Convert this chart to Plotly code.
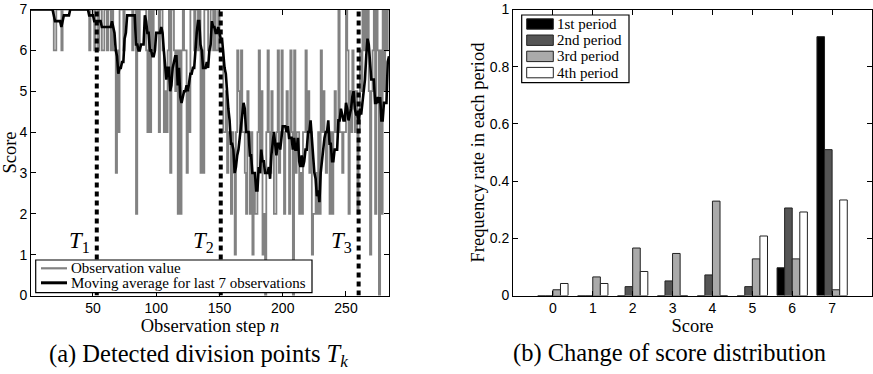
import plotly.graph_objects as go
import pandas as pd

# ---------------- data: left panel ----------------
# observed score at each observation step n = 1..284 (read from the picture)
observation = [
    # n 1-53 (1st period)
    7, 7, 7, 7, 7, 7, 7, 7, 7, 7,
    7, 7, 7, 7, 7, 7, 7, 7, 6, 6,
    7, 7, 7, 7, 6, 7, 7, 7, 7, 7,
    7, 7, 7, 7, 7, 7, 7, 7, 7, 7,
    7, 7, 7, 7, 7, 7, 6, 7, 7, 7,
    6, 7, 7,
    # n 54-151 (2nd period)
    6, 7, 7, 6, 6, 7, 7,
    6, 7, 7, 6, 7, 6, 6, 3, 6, 4,
    7, 7, 7, 6, 7, 7, 7, 7, 7, 7,
    6, 7, 7, 2, 7, 6, 7, 7, 7, 7,
    7, 6, 4, 7, 4, 7, 6, 7, 7, 7,
    7, 4, 7, 7, 6, 4, 5, 4, 6, 7,
    3, 7, 7, 6, 5, 6, 2, 6, 2, 6,
    7, 6, 6, 3, 5, 4, 7, 7, 7, 6,
    7, 7, 6, 7, 3, 6, 3, 7, 7, 7,
    6, 6, 7, 7, 6, 7, 6, 6, 7, 6, 6,
    # n 152-260 (3rd period)
    6, 4, 4, 5, 3, 4, 4, 2, 4, 3,
    1, 4, 6, 5, 4, 6, 4, 4, 3, 2,
    5, 4, 2, 4, 1, 3, 2, 2, 4, 6,
    3, 5, 1, 2, 0, 4, 6, 4, 3, 5,
    4, 2, 2, 4, 6, 3, 4, 6, 4,
    2, 4, 5, 4, 2, 6, 4, 0, 6, 3,
    4, 4, 2, 3, 2, 4, 4, 6, 4, 5,
    3, 4, 1, 2, 2, 3, 2, 4, 2, 6,
    4, 5, 4, 3, 4, 4, 2, 4, 2, 4,
    5, 4, 4, 7, 4, 4, 3, 4, 4, 7,
    6, 2, 5, 4, 6, 5, 4, 5, 2, 4,
    # n 261-284 (4th period)
    6, 5, 7, 6, 7, 6, 7, 5, 1, 5,
    6, 7, 2, 7, 6, 0, 6, 2, 7, 5,
    7, 6, 7, 7,
]
ma_window = 7
series_names = ["Observation value", "Moving average for last 7 observations"]
division_points = [53, 151, 260]
division_names = ["1", "2", "3"]
left_xticks = [50, 100, 150, 200, 250]
left_yticks = [0, 1, 2, 3, 4, 5, 6, 7]

# ---------------- data: right panel ----------------
scores = [0, 1, 2, 3, 4, 5, 6, 7]
period_names = ["1st period", "2nd period", "3rd period", "4th period"]
period1 = [0.0, 0.0, 0.0, 0.0, 0.0, 0.0, 0.097, 0.905]
period2 = [0.0, 0.0, 0.031, 0.051, 0.072, 0.031, 0.306, 0.510]
period3 = [0.020, 0.065, 0.166, 0.147, 0.330, 0.128, 0.128, 0.020]
period4 = [0.042, 0.042, 0.084, 0.0, 0.0, 0.208, 0.292, 0.334]
right_yticks = [0, 0.2, 0.4, 0.6, 0.8, 1]
right_yticklabels = ["0", "0.2", "0.4", "0.6", "0.8", "1"]

# ---------------- style ----------------
W, H = 873, 374
SERIF = "Liberation Serif, Times New Roman, serif"
SANS = "Liberation Sans, Arial, sans-serif"
period_colors = ["#000000", "#555555", "#aaaaaa", "#ffffff"]
line_colors = ["#828282", "#000000"]
line_widths = [1.8, 2.6]


def px_x(p):
    return p / W


def px_y(p):
    return 1 - p / H


steps = list(range(1, len(observation) + 1))
moving_avg = pd.Series(observation).rolling(ma_window, min_periods=1).mean()

fig = go.Figure()

fig.add_trace(go.Scatter(
    x=steps, y=observation, mode="lines", line_shape="hv",
    line=dict(color=line_colors[0], width=line_widths[0]),
    name=series_names[0], xaxis="x", yaxis="y", showlegend=False,
))
fig.add_trace(go.Scatter(
    x=steps, y=moving_avg, mode="lines",
    line=dict(color=line_colors[1], width=line_widths[1]),
    name=series_names[1], xaxis="x", yaxis="y", showlegend=False,
))

for name, vals, col in zip(period_names, [period1, period2, period3, period4], period_colors):
    fig.add_trace(go.Bar(
        x=scores, y=vals, name=name, xaxis="x2", yaxis="y2", showlegend=False,
        marker=dict(color=col, line=dict(color="#222222", width=1)),
    ))

shapes = []
annotations = []
for t, nm in zip(division_points, division_names):
    shapes.append(dict(type="line", xref="x", yref="y", x0=t, x1=t, y0=0, y1=7,
                       line=dict(color="black", width=4, dash="5px,4px")))
    annotations.append(dict(xref="x", yref="y", x=t, y=1.3, xanchor="right",
                            yanchor="middle", xshift=-5, showarrow=False,
                            text="<i>T</i><sub>%s</sub>" % nm,
                            font=dict(family=SERIF, size=23, color="black")))

# ----- legend of the left panel (box, line samples, labels) -----
shapes.append(dict(type="rect", xref="paper", yref="paper",
                   x0=px_x(35.7), x1=px_x(312), y0=px_y(292.7), y1=px_y(260),
                   fillcolor="white", line=dict(color="black", width=1.2)))
for i, (nm, col, lw) in enumerate(zip(series_names, line_colors, line_widths)):
    yc = 268.3 + i * 14.5
    shapes.append(dict(type="line", xref="paper", yref="paper",
                       x0=px_x(41), x1=px_x(67), y0=px_y(yc), y1=px_y(yc),
                       line=dict(color=col, width=lw + 0.4)))
    annotations.append(dict(xref="paper", yref="paper", x=px_x(69), y=px_y(yc),
                            xanchor="left", yanchor="middle", showarrow=False,
                            text=nm, font=dict(family=SERIF, size=15, color="black")))

# ----- legend of the right panel -----
shapes.append(dict(type="rect", xref="paper", yref="paper",
                   x0=px_x(521.7), x1=px_x(629), y0=px_y(82.7), y1=px_y(15),
                   fillcolor="white", line=dict(color="black", width=1.2)))
for i, (nm, col) in enumerate(zip(period_names, period_colors)):
    yc = 24 + i * 16.2
    shapes.append(dict(type="rect", xref="paper", yref="paper",
                       x0=px_x(526.7), x1=px_x(553.3), y0=px_y(yc + 5.2), y1=px_y(yc - 5.2),
                       fillcolor=col, line=dict(color="#222222", width=1)))
    annotations.append(dict(xref="paper", yref="paper", x=px_x(555), y=px_y(yc),
                            xanchor="left", yanchor="middle", showarrow=False,
                            text=nm, font=dict(family=SERIF, size=15, color="black")))

# ----- sub-figure captions -----
annotations.append(dict(xref="paper", yref="paper", x=px_x(198), y=px_y(355),
                        xanchor="center", yanchor="middle", showarrow=False,
                        text="(a) Detected division points <i>T</i><sub><i>k</i></sub>",
                        font=dict(family=SERIF, size=24.5, color="black")))
annotations.append(dict(xref="paper", yref="paper", x=px_x(669), y=px_y(353),
                        xanchor="center", yanchor="middle", showarrow=False,
                        text="(b) Change of score distribution",
                        font=dict(family=SERIF, size=24.5, color="black")))

axis_common = dict(showline=True, linecolor="black", linewidth=1, mirror="ticks",
                   ticks="inside", ticklen=5, tickcolor="black", showgrid=False,
                   zeroline=False, tickfont=dict(family=SANS, size=14, color="black"),
                   automargin=False)

ydom = [px_y(295.5), px_y(9.5)]
title_font = dict(family=SERIF, size=18.5, color="black")

fig.update_layout(
    width=W, height=H, margin=dict(l=0, r=0, t=0, b=0),
    paper_bgcolor="white", plot_bgcolor="white",
    barmode="group", bargap=0.24, bargroupgap=0.0,
    xaxis=dict(domain=[px_x(31), px_x(389)], range=[1, 284], tickvals=left_xticks,
               title=dict(text="Observation step <i>n</i>", standoff=0, font=title_font),
               anchor="y", **axis_common),
    yaxis=dict(domain=ydom, range=[0, 7], tickvals=left_yticks,
               title=dict(text="Score", standoff=1, font=title_font),
               anchor="x", **axis_common),
    xaxis2=dict(domain=[px_x(513), px_x(872)], range=[-1, 8], tickvals=scores,
                title=dict(text="Score", standoff=0, font=title_font),
                anchor="y2", **axis_common),
    yaxis2=dict(domain=ydom, range=[0, 1], tickvals=right_yticks,
                ticktext=right_yticklabels,
                title=dict(text="Frequency rate in each period", standoff=0, font=title_font),
                anchor="x2", **axis_common),
    shapes=shapes, annotations=annotations,
    showlegend=False,
)

fig.write_html("out.html")
